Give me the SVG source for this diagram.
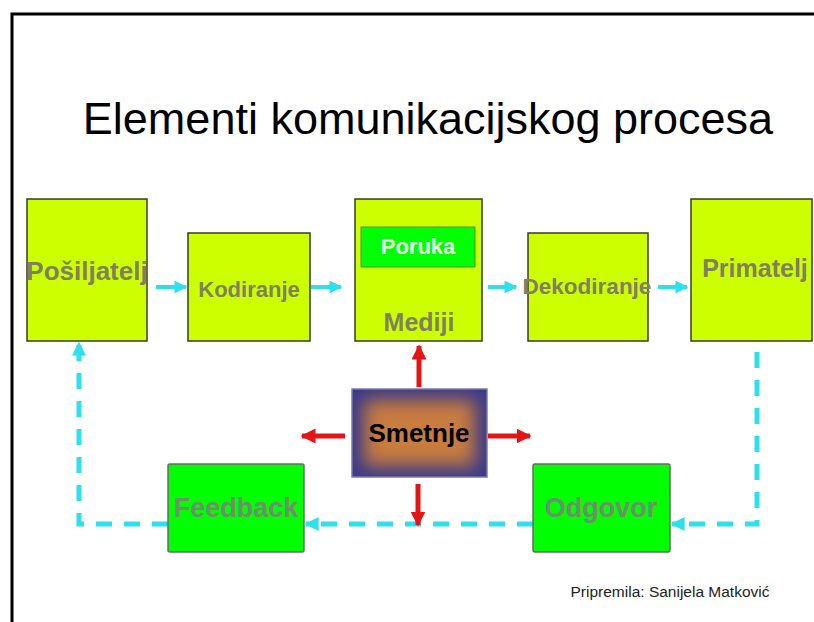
<svg xmlns="http://www.w3.org/2000/svg" width="814" height="622" viewBox="0 0 814 622">
<defs>
<style>
.box{fill:#ccff00;stroke:#3a3a2a;stroke-width:1.5}
.gbox{fill:#00ff00;stroke:#6a6a6a;stroke-width:1.5}
.lbl{font-family:"Liberation Sans",Arial,sans-serif;font-weight:bold;fill:#7f805f;text-anchor:middle}
.glbl{font-family:"Liberation Sans",Arial,sans-serif;font-weight:bold;fill:#6f8f6a;text-anchor:middle;font-size:27px}
.flow{stroke:#2ee0ee;stroke-width:4;fill:none}
.dash{stroke:#2ee0ee;stroke-width:5;fill:none;stroke-dasharray:16 12}
.red{stroke:#e51515;stroke-width:5;fill:none}
</style>
<marker id="ac" viewBox="0 0 10 10" refX="9" refY="5" markerWidth="3.2" markerHeight="3.2" orient="auto" markerUnits="strokeWidth">
<path d="M0,0 L10,5 L0,10 z" fill="#2ee0ee"/>
</marker>
<marker id="ad" viewBox="0 0 10 10" refX="9" refY="5" markerWidth="2.8" markerHeight="2.8" orient="auto" markerUnits="strokeWidth">
<path d="M0,0 L10,5 L0,10 z" fill="#2ee0ee"/>
</marker>
<marker id="ar" viewBox="0 0 10 10" refX="9" refY="5" markerWidth="3" markerHeight="3" orient="auto" markerUnits="strokeWidth">
<path d="M0,0 L10,5 L0,10 z" fill="#e51515"/>
</marker>
<clipPath id="sclip"><rect x="352" y="389" width="135" height="88"/></clipPath>
<filter id="blur" x="-30%" y="-30%" width="160%" height="160%"><feGaussianBlur stdDeviation="9"/></filter>
</defs>
<rect x="0" y="0" width="814" height="622" fill="#ffffff"/>
<path d="M12,622 V14 H814" fill="none" stroke="#000" stroke-width="3"/>
<text x="428" y="134" font-family="'Liberation Sans',Arial,sans-serif" font-size="45" fill="#000" text-anchor="middle">Elementi komunikacijskog procesa</text>

<g id="connectors">
<line class="flow" x1="156" y1="287" x2="186" y2="287" marker-end="url(#ac)"/>
<line class="flow" x1="311" y1="287" x2="341" y2="287" marker-end="url(#ac)"/>
<line class="flow" x1="488" y1="287" x2="516" y2="287" marker-end="url(#ac)"/>
<line class="flow" x1="658" y1="287" x2="687" y2="287" marker-end="url(#ac)"/>
<path class="dash" d="M757,352 V524 H672" marker-end="url(#ad)"/>
<path class="dash" d="M533,524 H306" marker-end="url(#ad)"/>
<path class="dash" d="M168,524 H79 V343" marker-end="url(#ad)"/>
<line class="red" x1="419" y1="387" x2="419" y2="346" marker-end="url(#ar)"/>
<line class="red" x1="345" y1="436" x2="302" y2="436" marker-end="url(#ar)"/>
<line class="red" x1="488" y1="436" x2="530" y2="436" marker-end="url(#ar)"/>
<line class="red" x1="418" y1="484" x2="418" y2="525" marker-end="url(#ar)"/>
</g>

<g id="posiljatelj">
<rect class="box" x="27" y="199" width="120" height="142"/>
<text class="lbl" x="87" y="280" font-size="26">Pošiljatelj</text>
</g>
<g id="kodiranje">
<rect class="box" x="188" y="233" width="122" height="108"/>
<text class="lbl" x="249" y="297" font-size="22">Kodiranje</text>
</g>
<g id="mediji">
<rect class="box" x="355" y="199" width="127" height="142"/>
<text class="lbl" x="419" y="331" font-size="25">Mediji</text>
</g>
<g id="poruka">
<rect x="361" y="227" width="114" height="40" fill="#00ff00" stroke="#5a8a40" stroke-width="1"/>
<text x="418" y="254" font-family="'Liberation Sans',Arial,sans-serif" font-weight="bold" font-size="22" fill="#e8ffe0" text-anchor="middle">Poruka</text>
</g>
<g id="dekodiranje">
<rect class="box" x="528" y="233" width="120" height="108"/>
<text class="lbl" x="587" y="294" font-size="22.5">Dekodiranje</text>
</g>
<g id="primatelj">
<rect class="box" x="691" y="199" width="121" height="142"/>
<text class="lbl" x="755" y="277" font-size="25">Primatelj</text>
</g>
<g id="smetnje">
<rect x="352" y="389" width="135" height="88" fill="#3a3a88"/>
<g clip-path="url(#sclip)">
<rect x="364" y="400" width="111" height="66" fill="#c87c3c" filter="url(#blur)"/>
</g>
<rect x="352" y="389" width="135" height="88" fill="none" stroke="#7a7ab0" stroke-width="1.5"/>
<text x="419" y="442" font-family="'Liberation Sans',Arial,sans-serif" font-weight="bold" font-size="26" fill="#000" text-anchor="middle">Smetnje</text>
</g>
<g id="feedback">
<rect class="gbox" x="168" y="464" width="136" height="88" rx="2"/>
<text class="glbl" x="236" y="517">Feedback</text>
</g>
<g id="odgovor">
<rect class="gbox" x="533" y="464" width="137" height="88" rx="2"/>
<text class="glbl" x="601" y="517">Odgovor</text>
</g>
<text x="670" y="597" font-family="'Liberation Sans',Arial,sans-serif" font-size="15.5" fill="#222" text-anchor="middle">Pripremila: Sanijela Matković</text>
</svg>
